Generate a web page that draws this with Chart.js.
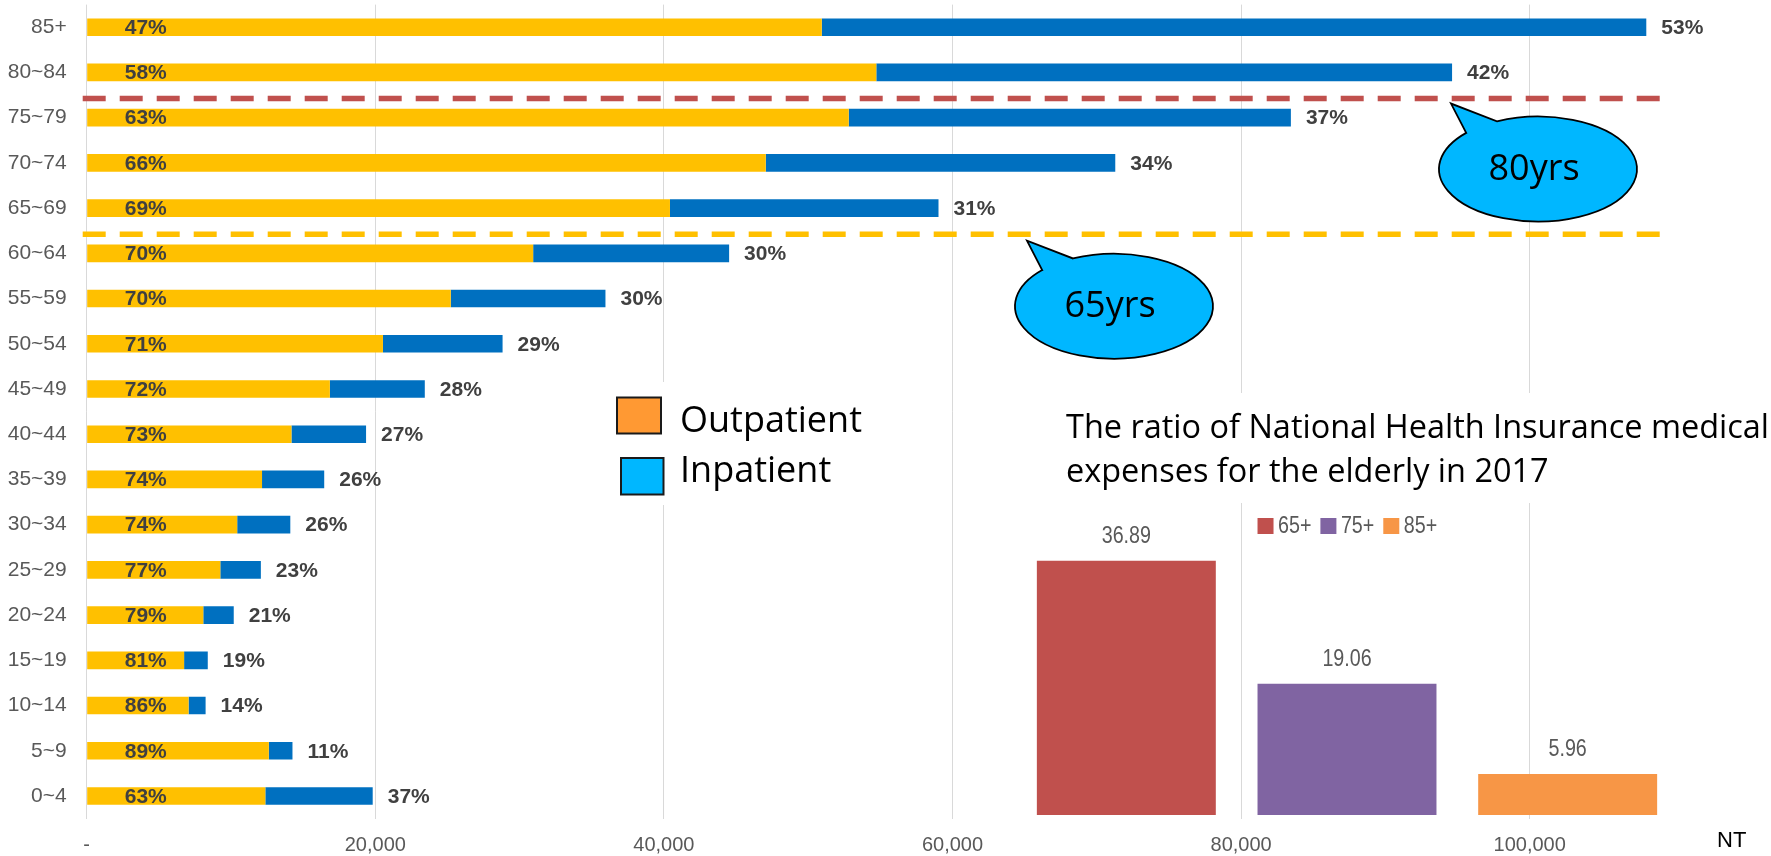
<!DOCTYPE html>
<html>
<head>
<meta charset="utf-8">
<script src="https://cdn.jsdelivr.net/npm/chart.js@4.4.0/dist/chart.umd.min.js"></script>
<style>
html,body{margin:0;padding:0;background:#fff;overflow:hidden;}
#wrap{position:relative;width:1771px;height:856px;background:#fff;}
#main{position:absolute;left:0;top:0;width:1771px;height:856px;}
#inset{position:absolute;left:1016px;top:505px;width:662px;height:310px;}
</style>
</head>
<body>
<div id="wrap">
<canvas id="main" width="1771" height="856"></canvas>
<canvas id="inset" width="662" height="310"></canvas>
</div>
<script>
// ---------- data ----------
const ageGroups = ['85+','80~84','75~79','70~74','65~69','60~64','55~59','50~54','45~49','40~44','35~39','30~34','25~29','20~24','15~19','10~14','5~9','0~4'];
const outpatient = [50940,54720,52810,47060,40420,30940,25230,20530,16850,14190,12150,10430,9260,8080,6750,7060,12620,12380];
const inpatient  = [57140,39900,30640,24220,18610,13580,10720,8290,6580,5170,4310,3680,2810,2110,1640,1180,1640,7440];
const outpatientPct = ['47%','58%','63%','66%','69%','70%','70%','71%','72%','73%','74%','74%','77%','79%','81%','86%','89%','63%'];
const inpatientPct  = ['53%','42%','37%','34%','31%','30%','30%','29%','28%','27%','26%','26%','23%','21%','19%','14%','11%','37%'];
const xTickValues = [0,20000,40000,60000,80000,100000];
const xTickLabels = ['-','20,000','40,000','60,000','80,000','100,000'];
const legendLabels = ['Outpatient','Inpatient'];
const titleLines = ['The ratio of National Health Insurance medical','expenses for the elderly in 2017'];
const markerLines = ['80yrs','65yrs'];

const insetLabels = ['65+','75+','85+'];
const insetValues = [36.89,19.06,5.96];

// ---------- styles ----------
const insetColors = ['#C0504D','#8064A2','#F79646'];
const SANS = '"Liberation Sans", Arial, sans-serif';
const OPEN = '"Open Sans", "Noto Sans", sans-serif';

function hasFont(name){
  const c = document.createElement('canvas').getContext('2d');
  const s = 'abcdefWWWmm100,000';
  c.font = '40px monospace';
  const w1 = c.measureText(s).width;
  c.font = '40px "' + name + '", monospace';
  return Math.abs(c.measureText(s).width - w1) > 0.5;
}
const hasNarrow = hasFont('Liberation Sans Narrow');
const NARROW = hasNarrow ? '"Liberation Sans Narrow", sans-serif' : SANS;
const tickSize = hasNarrow ? 23 : 20;

// condensed text helper (Arial-Narrow look)
function narrowText(ctx, text, x, y, size, align){
  ctx.save();
  ctx.font = size + 'px ' + SANS;
  ctx.textBaseline = 'middle';
  ctx.textAlign = align;
  ctx.translate(x, y);
  ctx.scale(0.82, 1);
  ctx.fillText(text, 0, 0);
  const w = ctx.measureText(text).width * 0.82;
  ctx.restore();
  return w;
}

// ---------- overlay plugin for main chart ----------
function drawBubble(ctx, cx, cy, text){
  const rx = 99, ry = 52.5;
  const tip = [cx - 87, cy - 65.5];
  const aA = 223.5 * Math.PI / 180, aB = 245.5 * Math.PI / 180;
  const A = [cx + rx*Math.cos(aA), cy + ry*Math.sin(aA)];
  ctx.save();
  ctx.beginPath();
  ctx.moveTo(A[0], A[1]);
  ctx.lineTo(tip[0], tip[1]);
  ctx.lineTo(cx + rx*Math.cos(aB), cy + ry*Math.sin(aB));
  ctx.ellipse(cx, cy, rx, ry, 0, aB, aA + 2*Math.PI, false);
  ctx.closePath();
  ctx.fillStyle = '#00B7FF';
  ctx.fill();
  ctx.lineWidth = 1.8;
  ctx.strokeStyle = '#000';
  ctx.stroke();
  ctx.fillStyle = '#000';
  ctx.font = '36px ' + OPEN;
  ctx.textAlign = 'center';
  ctx.textBaseline = 'middle';
  ctx.fillText(text, cx - 4, cy + 1);
  ctx.restore();
}

const overlay = {
  id: 'overlay',
  afterDatasetsDraw(chart){
    const ctx = chart.ctx, xs = chart.scales.x, ys = chart.scales.y, ca = chart.chartArea;
    ctx.save();
    // percentage labels
    ctx.font = 'bold 21px ' + SANS;
    ctx.fillStyle = '#404040';
    ctx.textBaseline = 'middle';
    ctx.textAlign = 'left';
    for (let i = 0; i < ageGroups.length; i++){
      const yc = ys.getPixelForValue(i) + 1;
      ctx.fillText(outpatientPct[i], xs.getPixelForValue(0) + 38, yc);
      ctx.fillText(inpatientPct[i], xs.getPixelForValue(outpatient[i] + inpatient[i]) + 15, yc);
    }
    // dashed separator lines (80 yrs between 80~84 / 75~79, 65 yrs between 65~69 / 60~64)
    const sepY = (a, b) => (ys.getPixelForValue(a) + ys.getPixelForValue(b)) / 2 + 3.5;
    const seps = [[1, 2, '#C0504D'], [4, 5, '#FFC000']];
    ctx.lineWidth = 5.5;
    ctx.setLineDash([23, 14]);
    seps.forEach(([a, b, col]) => {
      const yy = sepY(a, b);
      ctx.strokeStyle = col;
      ctx.beginPath();
      ctx.moveTo(ca.left - 4, yy);
      ctx.lineTo(ca.right - 1, yy);
      ctx.stroke();
    });
    ctx.setLineDash([]);
    ctx.restore();

    // bubbles
    drawBubble(ctx, 1538, sepY(1, 2) + 70.5, markerLines[0]);
    drawBubble(ctx, 1114, sepY(4, 5) + 72, markerLines[1]);

    ctx.save();
    // white boxes behind legend and title
    ctx.fillStyle = '#fff';
    ctx.fillRect(605, 382, 275, 123);
    ctx.fillRect(1046, 393, 725, 110);

    // legend
    ctx.lineWidth = 2;
    ctx.strokeStyle = '#1a1a1a';
    ctx.fillStyle = '#FF9933';
    ctx.fillRect(617, 397.5, 44, 36);
    ctx.strokeRect(617, 397.5, 44, 36);
    ctx.fillStyle = '#00B7FF';
    ctx.fillRect(621, 458, 42.5, 36.5);
    ctx.strokeRect(621, 458, 42.5, 36.5);
    ctx.fillStyle = '#000';
    ctx.font = '36px ' + OPEN;
    ctx.textAlign = 'left';
    ctx.textBaseline = 'alphabetic';
    ctx.fillText(legendLabels[0], 680, 431.7);
    ctx.fillText(legendLabels[1], 680, 481.7);

    // title (fit first line to reference width)
    ctx.font = '32px ' + OPEN;
    const w = ctx.measureText(titleLines[0]).width;
    const ts = Math.min(34, 32 * 703 / w);
    ctx.font = ts.toFixed(2) + 'px ' + OPEN;
    ctx.fillText(titleLines[0], 1066, 438.3);
    ctx.fillText(titleLines[1], 1066, 481.7);

    // unit
    ctx.font = '22px ' + SANS;
    ctx.fillStyle = '#000';
    ctx.fillText('NT', 1717, 847);
    ctx.restore();
  }
};

new Chart(document.getElementById('main'), {
  type: 'bar',
  data: {
    labels: ageGroups,
    datasets: [
      { label: legendLabels[0], data: outpatient, backgroundColor: '#FFC000', barPercentage: 0.39, categoryPercentage: 1 },
      { label: legendLabels[1], data: inpatient, backgroundColor: '#0070C0', barPercentage: 0.39, categoryPercentage: 1 }
    ]
  },
  options: {
    indexAxis: 'y',
    responsive: false,
    animation: false,
    devicePixelRatio: 1,
    layout: { padding: { left: 0, right: 97, top: 4.6, bottom: 0 } },
    plugins: { legend: { display: false }, tooltip: { enabled: false } },
    scales: {
      x: {
        stacked: true, min: 0, max: 110000,
        border: { display: false },
        grid: { color: '#D9D9D9', lineWidth: 1, drawTicks: false },
        ticks: {
          autoSkip: false, maxRotation: 0,
          padding: 15, color: '#595959',
          font: { family: NARROW, size: tickSize },
          callback: (v) => { const i = xTickValues.indexOf(v); return i >= 0 ? xTickLabels[i] : ''; }
        },
        afterBuildTicks(s){ s.ticks = xTickValues.map(v => ({ value: v })); },
        afterFit(s){ s.height = 37.4; s.paddingLeft = 0; s.paddingRight = 0; }
      },
      y: {
        stacked: true,
        border: { display: false },
        grid: { display: false, drawTicks: false },
        ticks: { padding: 20, color: '#595959', font: { family: SANS, size: 21 } },
        afterFit(s){ s.width = 86.7; s.paddingTop = 0; s.paddingBottom = 0; }
      }
    }
  },
  plugins: [overlay]
});

// ---------- inset chart ----------
const insetPlugin = {
  id: 'insetLabels',
  afterDatasetsDraw(chart){
    const ctx = chart.ctx, meta = chart.getDatasetMeta(0);
    ctx.save();
    ctx.fillStyle = '#595959';
    meta.data.forEach((bar, i) => {
      narrowText(ctx, insetValues[i].toFixed(2), bar.x, bar.y - 24.5, 24, 'center');
    });
    // legend
    let lx = meta.data[1].x - meta.data[1].width / 2;
    const ly = 21;
    insetLabels.forEach((lab, i) => {
      ctx.fillStyle = insetColors[i];
      ctx.fillRect(lx, ly - 8, 16, 16);
      ctx.fillStyle = '#595959';
      const tw = narrowText(ctx, lab, lx + 20.5, ly, 24, 'left');
      lx += 20.5 + tw + 9;
    });
    ctx.restore();
  }
};

new Chart(document.getElementById('inset'), {
  type: 'bar',
  data: {
    labels: insetLabels,
    datasets: [{ data: insetValues, backgroundColor: insetColors, barPercentage: 0.811, categoryPercentage: 1 }]
  },
  options: {
    responsive: false,
    animation: false,
    devicePixelRatio: 1,
    layout: { padding: 0 },
    plugins: { legend: { display: false }, tooltip: { enabled: false } },
    scales: { x: { display: false }, y: { display: false, min: 0, max: 45 } }
  },
  plugins: [insetPlugin]
});
</script>
</body>
</html>
